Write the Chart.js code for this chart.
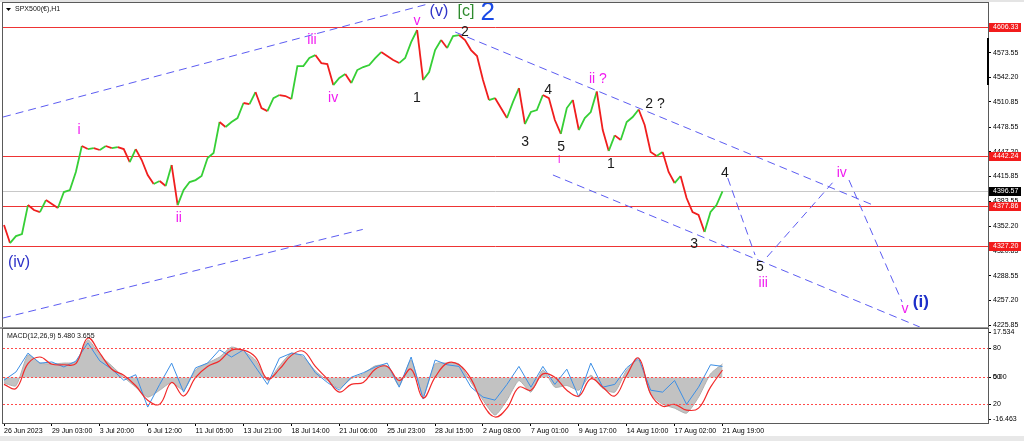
<!DOCTYPE html>
<html>
<head>
<meta charset="utf-8">
<script src="https://cdn.jsdelivr.net/npm/chart.js@4.4.1/dist/chart.umd.min.js"></script>
<style>
  html, body { margin: 0; padding: 0; background: #fff; }
  #wrap { position: relative; width: 1024px; height: 441px; overflow: hidden; background: #fff; }
  canvas { position: absolute; left: 0; }
  #priceChart { top: 0; }
  #macdChart { top: 327px; }
</style>
</head>
<body>
<div id="wrap">
  <canvas id="priceChart" width="1024" height="330"></canvas>
  <canvas id="macdChart" width="1024" height="114"></canvas>
</div>
<script>
// time axis labels, one every 64 H1 bars
const timeLabels = ['26 Jun 2023', '29 Jun 03:00', '3 Jul 20:00', '6 Jul 12:00', '11 Jul 05:00',
  '13 Jul 21:00', '18 Jul 14:00', '21 Jul 06:00', '25 Jul 23:00', '28 Jul 15:00', '2 Aug 08:00',
  '7 Aug 01:00', '9 Aug 17:00', '14 Aug 10:00', '17 Aug 02:00', '21 Aug 19:00'];

const priceTicks = [4225.85, 4257.20, 4288.55, 4320.85, 4352.20, 4383.55, 4415.85,
  4447.20, 4478.55, 4510.85, 4542.20, 4573.55];
const levelPrices = [4606.33, 4442.24, 4377.86, 4327.20];
const lastPrice = 4396.57;

// closes sampled every 1/8 of a label step
const priceClose = [
  4353.5, 4330.5, 4339.4, 4342.0, 4379.0, 4372.7, 4370.1, 4385.4, 4380.3, 4375.2,
  4395.6, 4398.2, 4421.2, 4454.4, 4450.5, 4451.8, 4449.3, 4454.4, 4451.8, 4453.1,
  4450.5, 4433.9, 4450.5, 4436.5, 4417.3, 4405.8, 4409.7, 4403.3, 4430.1, 4379.0,
  4398.2, 4408.4, 4410.9, 4416.1, 4439.0, 4445.4, 4485.0, 4478.6, 4485.0, 4490.1,
  4509.3, 4508.0, 4523.3, 4502.9, 4499.0, 4515.6, 4519.5, 4518.2, 4514.4, 4556.5,
  4556.5, 4566.7, 4570.5, 4560.3, 4559.1, 4532.2, 4541.2, 4546.3, 4534.8, 4551.4,
  4555.2, 4557.8, 4566.7, 4574.4, 4569.3, 4564.2, 4560.3, 4566.7, 4587.1, 4602.5,
  4538.6, 4548.8, 4576.9, 4589.7, 4579.5, 4594.8, 4596.1, 4589.7, 4576.9, 4569.3,
  4538.6, 4513.1, 4515.6, 4502.9, 4490.1, 4510.5, 4528.4, 4482.5, 4497.8, 4500.3,
  4519.5, 4515.6, 4487.6, 4470.0, 4502.9, 4513.1, 4474.8, 4490.1, 4497.8, 4524.0,
  4474.8, 4448.0, 4468.0, 4462.0, 4485.0, 4491.4, 4501.0, 4481.2, 4446.7, 4441.6,
  4446.7, 4421.2, 4407.1, 4416.1, 4388.0, 4370.1, 4366.3, 4344.6, 4370.1, 4379.0,
  4396.57
];
const priceStep = 0.125;

// dashed trend / projection lines: [start, end] in label-steps and price
const trendX = [[-0.02, 8.85], [-0.02, 7.49], [9.42, 18.14], [11.46, 19.12],
  [15.11, 15.68], [15.93, 17.31], [17.64, 18.75]];
const trendY = [[4491.4, 4635.7], [4234.8, 4347.9], [4599.9, 4379.1], [4417.4, 4223.3],
  [4413.5, 4315.2], [4312.7, 4408.4], [4411.0, 4255.2]];

// MACD panel, sampled every 1/4 label step
const macdMain = [-2.0, -3.0, 8.1, 5.2, 4.9, 5.2, 5.6, 13.6, 8.1, 4.2,
  0.1, -3.5, -7.1, -4.6, -1.8, -4.6, 2.7, 5.2, 7.4, 11.0,
  9.5, 6.3, -1.1, 4.2, 8.8, 7.4, 2.4, -1.1, -3.9, -0.4,
  1.3, 4.2, 4.2, -2.9, 6.3, -6.7, 4.9, 5.2, 4.9, -1.8,
  -8.2, -13.6, -8.2, -1.1, -5.3, 2.7, -3.5, -2.9, -4.6, 0.8,
  -3.9, -5.3, 2.7, 6.3, -6.0, -9.7, -11.1, -12.9, -7.1, 1.3, 4.9];
const macdFast = [-1.0, 2.0, 8.8, 5.2, 5.6, 3.8, 5.9, 12.5, 6.0, 3.0,
  -1.0, 1.0, -10.7, -2.5, 5.2, -5.3, 3.5, 5.2, 10.0, 7.4,
  10.0, 3.8, -2.5, 7.0, 8.8, 8.1, 1.7, -1.8, -4.6, 0.1,
  1.7, 3.8, 5.2, -3.5, 7.4, -7.8, 6.3, 4.6, 4.0, -3.5,
  -7.1, -8.2, -2.5, 4.0, -3.5, 4.0, -2.5, 3.0, -7.1, 5.2,
  -3.5, -2.5, 3.5, 7.0, -4.6, -5.3, -1.1, -9.7, -3.5, 4.6, 4.0];
const macdSignal = [-2.5, -4.0, 5.0, 7.4, 4.8, 4.6, 5.0, 14.3, 8.8, 3.0,
  0.8, -3.0, -8.2, -9.7, -1.8, -6.7, 0.0, 4.0, 6.0, 9.9,
  9.9, 7.4, -0.5, 3.0, 8.0, 9.5, 4.0, -0.5, -5.3, -2.5,
  -1.8, 3.0, 4.0, -1.1, 3.0, -7.4, 0.1, 5.2, 4.6, -0.5,
  -9.7, -14.3, -11.1, -3.5, -4.6, 1.3, 0.1, -4.6, -6.7, -0.5,
  -3.5, -6.7, 0.8, 7.0, -6.0, -10.4, -9.7, -11.8, -11.1, -3.5, 2.7];
const macdStep = 0.25;
const macdLevels = [10.64, 0, -9.63];
const macdTickVals = [16.4, 10.64, 0, 0, -9.63, -15.1];
const macdTickText = ['17.534', '80', '50', '0.00', '20', '-16.463'];

const xMin = -0.021, xMax = 20.543;
const FONT = "'Liberation Sans', Arial, sans-serif";
const axisFont = { family: FONT, size: 7 };

// wave count text placed in chart units
const waveStyles = {
  blue:  { font: '16px ' + FONT, color: '#2f33c8' },
  green: { font: '16px ' + FONT, color: '#2e8b2e' },
  big:   { font: '26px ' + FONT, color: '#1a4ae6' },
  pink:  { font: '14px ' + FONT, color: '#f01cf0' },
  small: { font: '11px ' + FONT, color: '#f01cf0' },
  black: { font: '14px ' + FONT, color: '#1a1a1a' },
  boldb: { font: 'bold 17px ' + FONT, color: '#1d2fc9' }
};
const waveMarks = [
  { t: '(v)', x: 9.08, y: 4625.5, s: 'blue' },
  { t: '[c]', x: 9.645, y: 4625.5, s: 'green' },
  { t: '2', x: 10.10, y: 4624.2, s: 'big' },
  { t: 'v', x: 8.62, y: 4614.0, s: 'pink' },
  { t: 'iii', x: 6.43, y: 4589.7, s: 'pink' },
  { t: 'iv', x: 6.87, y: 4515.7, s: 'pink' },
  { t: '1', x: 8.62, y: 4515.7, s: 'black' },
  { t: '2', x: 9.62, y: 4599.9, s: 'black' },
  { t: 'i', x: 1.566, y: 4474.8, s: 'pink' },
  { t: 'ii', x: 3.65, y: 4362.5, s: 'pink' },
  { t: '(iv)', x: 0.313, y: 4305.0, s: 'blue' },
  { t: '3', x: 10.88, y: 4459.5, s: 'black' },
  { t: '4', x: 11.36, y: 4525.9, s: 'black' },
  { t: '5', x: 11.63, y: 4453.1, s: 'black' },
  { t: 'i', x: 11.59, y: 4436.5, s: 'small' },
  { t: 'ii ?', x: 12.40, y: 4539.9, s: 'pink' },
  { t: '1', x: 12.67, y: 4431.4, s: 'black' },
  { t: '2 ?', x: 13.59, y: 4508.0, s: 'black' },
  { t: '3', x: 14.41, y: 4329.3, s: 'black' },
  { t: '4', x: 15.05, y: 4419.9, s: 'black' },
  { t: '5', x: 15.78, y: 4299.9, s: 'black' },
  { t: 'iii', x: 15.85, y: 4279.5, s: 'pink' },
  { t: 'iv', x: 17.49, y: 4419.9, s: 'pink' },
  { t: 'v', x: 18.81, y: 4246.3, s: 'pink' },
  { t: '(i)', x: 19.14, y: 4255.2, s: 'boldb' }
];

function hline(ctx, x1, x2, y) {
  ctx.beginPath();
  ctx.moveTo(x1, y);
  ctx.lineTo(x2, y);
  ctx.stroke();
}

function frame(ctx, a) {
  ctx.strokeStyle = '#5a5a5a';
  ctx.lineWidth = 1;
  ctx.strokeRect(a.left - 0.5, a.top - 0.5, a.right - a.left + 1, a.bottom - a.top + 1);
}

const pricePanel = {
  id: 'pricePanel',
  beforeDraw(chart) {
    const ctx = chart.ctx;
    ctx.save();
    ctx.fillStyle = '#fff';
    ctx.fillRect(0, 0, chart.width, chart.height);
    ctx.fillStyle = '#e4e4e4';
    ctx.fillRect(0, 0, chart.width, 2);
    ctx.restore();
  },
  beforeDatasetsDraw(chart) {
    const { ctx, chartArea: a } = chart;
    const y = chart.scales.y;
    ctx.save();
    ctx.lineWidth = 1;
    ctx.strokeStyle = '#c8c8c8';
    hline(ctx, a.left, a.right, Math.round(y.getPixelForValue(lastPrice)) + 0.5);
    ctx.strokeStyle = '#ee3434';
    levelPrices.forEach(v => hline(ctx, a.left, a.right, Math.round(y.getPixelForValue(v)) + 0.5));
    ctx.restore();
  },
  afterDatasetsDraw(chart) {
    const { ctx } = chart;
    const { x, y } = chart.scales;
    ctx.save();
    ctx.textAlign = 'center';
    ctx.textBaseline = 'middle';
    waveMarks.forEach(m => {
      const st = waveStyles[m.s];
      ctx.font = st.font;
      ctx.fillStyle = st.color;
      ctx.fillText(m.t, x.getPixelForValue(m.x), y.getPixelForValue(m.y));
    });
    ctx.restore();
  },
  afterDraw(chart) {
    const { ctx, chartArea: a } = chart;
    const y = chart.scales.y;
    ctx.save();
    frame(ctx, a);
    // scroll marker on the price scale
    ctx.fillStyle = '#000';
    ctx.fillRect(a.right - 1, a.top + 35, 2, 47);
    // level tags
    ctx.font = '7px ' + FONT;
    ctx.textAlign = 'left';
    ctx.textBaseline = 'middle';
    const tag = (v, bg) => {
      const py = Math.round(y.getPixelForValue(v));
      ctx.fillStyle = bg;
      ctx.fillRect(a.right + 1, py - 4, 32, 9);
      ctx.fillStyle = '#fff';
      ctx.fillText(v.toFixed(2), a.right + 5, py + 0.5);
    };
    levelPrices.forEach(v => tag(v, '#f21c1c'));
    tag(lastPrice, '#000');
    // title
    ctx.fillStyle = '#000';
    ctx.beginPath();
    ctx.moveTo(a.left + 3, a.top + 5);
    ctx.lineTo(a.left + 8, a.top + 5);
    ctx.lineTo(a.left + 5.5, a.top + 8);
    ctx.closePath();
    ctx.fill();
    ctx.fillStyle = '#111';
    ctx.fillText('SPX500(€),H1', a.left + 12, a.top + 6.5);
    ctx.restore();
  }
};

const macdPanel = {
  id: 'macdPanel',
  beforeDatasetsDraw(chart) {
    const { ctx, chartArea: a } = chart;
    ctx.save();
    ctx.fillStyle = '#fff';
    ctx.fillRect(a.left, a.top, a.right - a.left, a.bottom - a.top);
    ctx.restore();
  },
  afterDatasetsDraw(chart) {
    const { ctx, chartArea: a } = chart;
    const y = chart.scales.y;
    ctx.save();
    ctx.strokeStyle = '#ff4a4a';
    ctx.lineWidth = 1;
    ctx.setLineDash([2, 2]);
    macdLevels.forEach(v => hline(ctx, a.left, a.right, Math.round(y.getPixelForValue(v)) + 0.5));
    ctx.restore();
  },
  afterDraw(chart) {
    const { ctx, chartArea: a } = chart;
    ctx.save();
    ctx.fillStyle = '#e8e8e8';
    ctx.fillRect(0, chart.height - 5, chart.width, 5);
    ctx.strokeStyle = '#9a9a9a';
    ctx.lineWidth = 2;
    hline(ctx, 0, a.right + 1, a.top - 1);
    frame(ctx, a);
    ctx.font = '7px ' + FONT;
    ctx.fillStyle = '#111';
    ctx.textBaseline = 'middle';
    ctx.fillText('MACD(12,26,9) 5.480 3.655', a.left + 4, a.top + 7);
    ctx.restore();
  }
};

const tickGrid = { drawOnChartArea: false, drawTicks: true, tickLength: 3, color: '#000', lineWidth: 1 };

new Chart(document.getElementById('priceChart'), {
  type: 'line',
  data: {
    datasets: [
      {
        data: priceClose.map((v, i) => ({ x: i * priceStep, y: v })),
        borderWidth: 1.8,
        pointRadius: 0,
        tension: 0,
        borderColor: '#f01e1e',
        segment: {
          borderColor: c => (c.p1.parsed.y >= c.p0.parsed.y ? '#36cf36' : '#f01e1e')
        }
      },
      ...trendX.map((xs, i) => ({
        data: xs.map((xv, j) => ({ x: xv, y: trendY[i][j] })),
        borderColor: '#5c5cf2',
        borderWidth: 1,
        borderDash: [8, 5],
        pointRadius: 0
      }))
    ]
  },
  options: {
    responsive: false,
    animation: false,
    events: [],
    layout: { padding: { left: 3, top: 3, right: 0, bottom: 3 } },
    plugins: { legend: { display: false }, tooltip: { enabled: false } },
    scales: {
      x: { type: 'linear', min: xMin, max: xMax, display: false },
      y: {
        position: 'right',
        min: 4223.3,
        max: 4637.0,
        afterBuildTicks: s => { s.ticks = priceTicks.map(v => ({ value: v })); },
        afterFit: s => { s.width = 36; s.paddingTop = 0; s.paddingBottom = 0; },
        ticks: { font: axisFont, color: '#000', padding: 2, autoSkip: false, callback: v => v.toFixed(2) },
        grid: tickGrid,
        border: { display: false }
      }
    }
  },
  plugins: [pricePanel]
});

new Chart(document.getElementById('macdChart'), {
  type: 'line',
  data: {
    datasets: [
      {
        data: macdSignal.map((v, i) => ({ x: i * macdStep, y: v })),
        borderColor: '#f22a2a',
        borderWidth: 1.2,
        pointRadius: 0,
        tension: 0.4
      },
      {
        data: macdFast.map((v, i) => ({ x: i * macdStep, y: v })),
        borderColor: '#3c8fe6',
        borderWidth: 1,
        pointRadius: 0,
        tension: 0
      },
      {
        data: macdMain.map((v, i) => ({ x: i * macdStep, y: v })),
        borderColor: '#b0b0b0',
        backgroundColor: '#c2c2c2',
        borderWidth: 1,
        pointRadius: 0,
        tension: 0.2,
        fill: 'origin'
      }
    ]
  },
  options: {
    responsive: false,
    animation: false,
    events: [],
    layout: { padding: { left: 3, top: 2, right: 0, bottom: 0 } },
    plugins: { legend: { display: false }, tooltip: { enabled: false } },
    scales: {
      x: {
        type: 'linear',
        min: xMin,
        max: xMax,
        afterBuildTicks: s => { s.ticks = timeLabels.map((_, i) => ({ value: i })); },
        afterFit: s => { s.height = 18; s.paddingLeft = 0; s.paddingRight = 0; },
        ticks: {
          font: axisFont, color: '#000', padding: 1, align: 'start',
          maxRotation: 0, autoSkip: false,
          callback: (v, i) => timeLabels[i]
        },
        grid: tickGrid,
        border: { display: false }
      },
      y: {
        position: 'right',
        min: -16.463,
        max: 17.534,
        afterBuildTicks: s => { s.ticks = macdTickVals.map(v => ({ value: v })); },
        afterFit: s => { s.width = 36; s.paddingTop = 0; s.paddingBottom = 0; },
        ticks: { font: axisFont, color: '#000', padding: 2, autoSkip: false, callback: (v, i) => macdTickText[i] },
        grid: tickGrid,
        border: { display: false }
      }
    }
  },
  plugins: [macdPanel]
});
</script>
</body>
</html>
